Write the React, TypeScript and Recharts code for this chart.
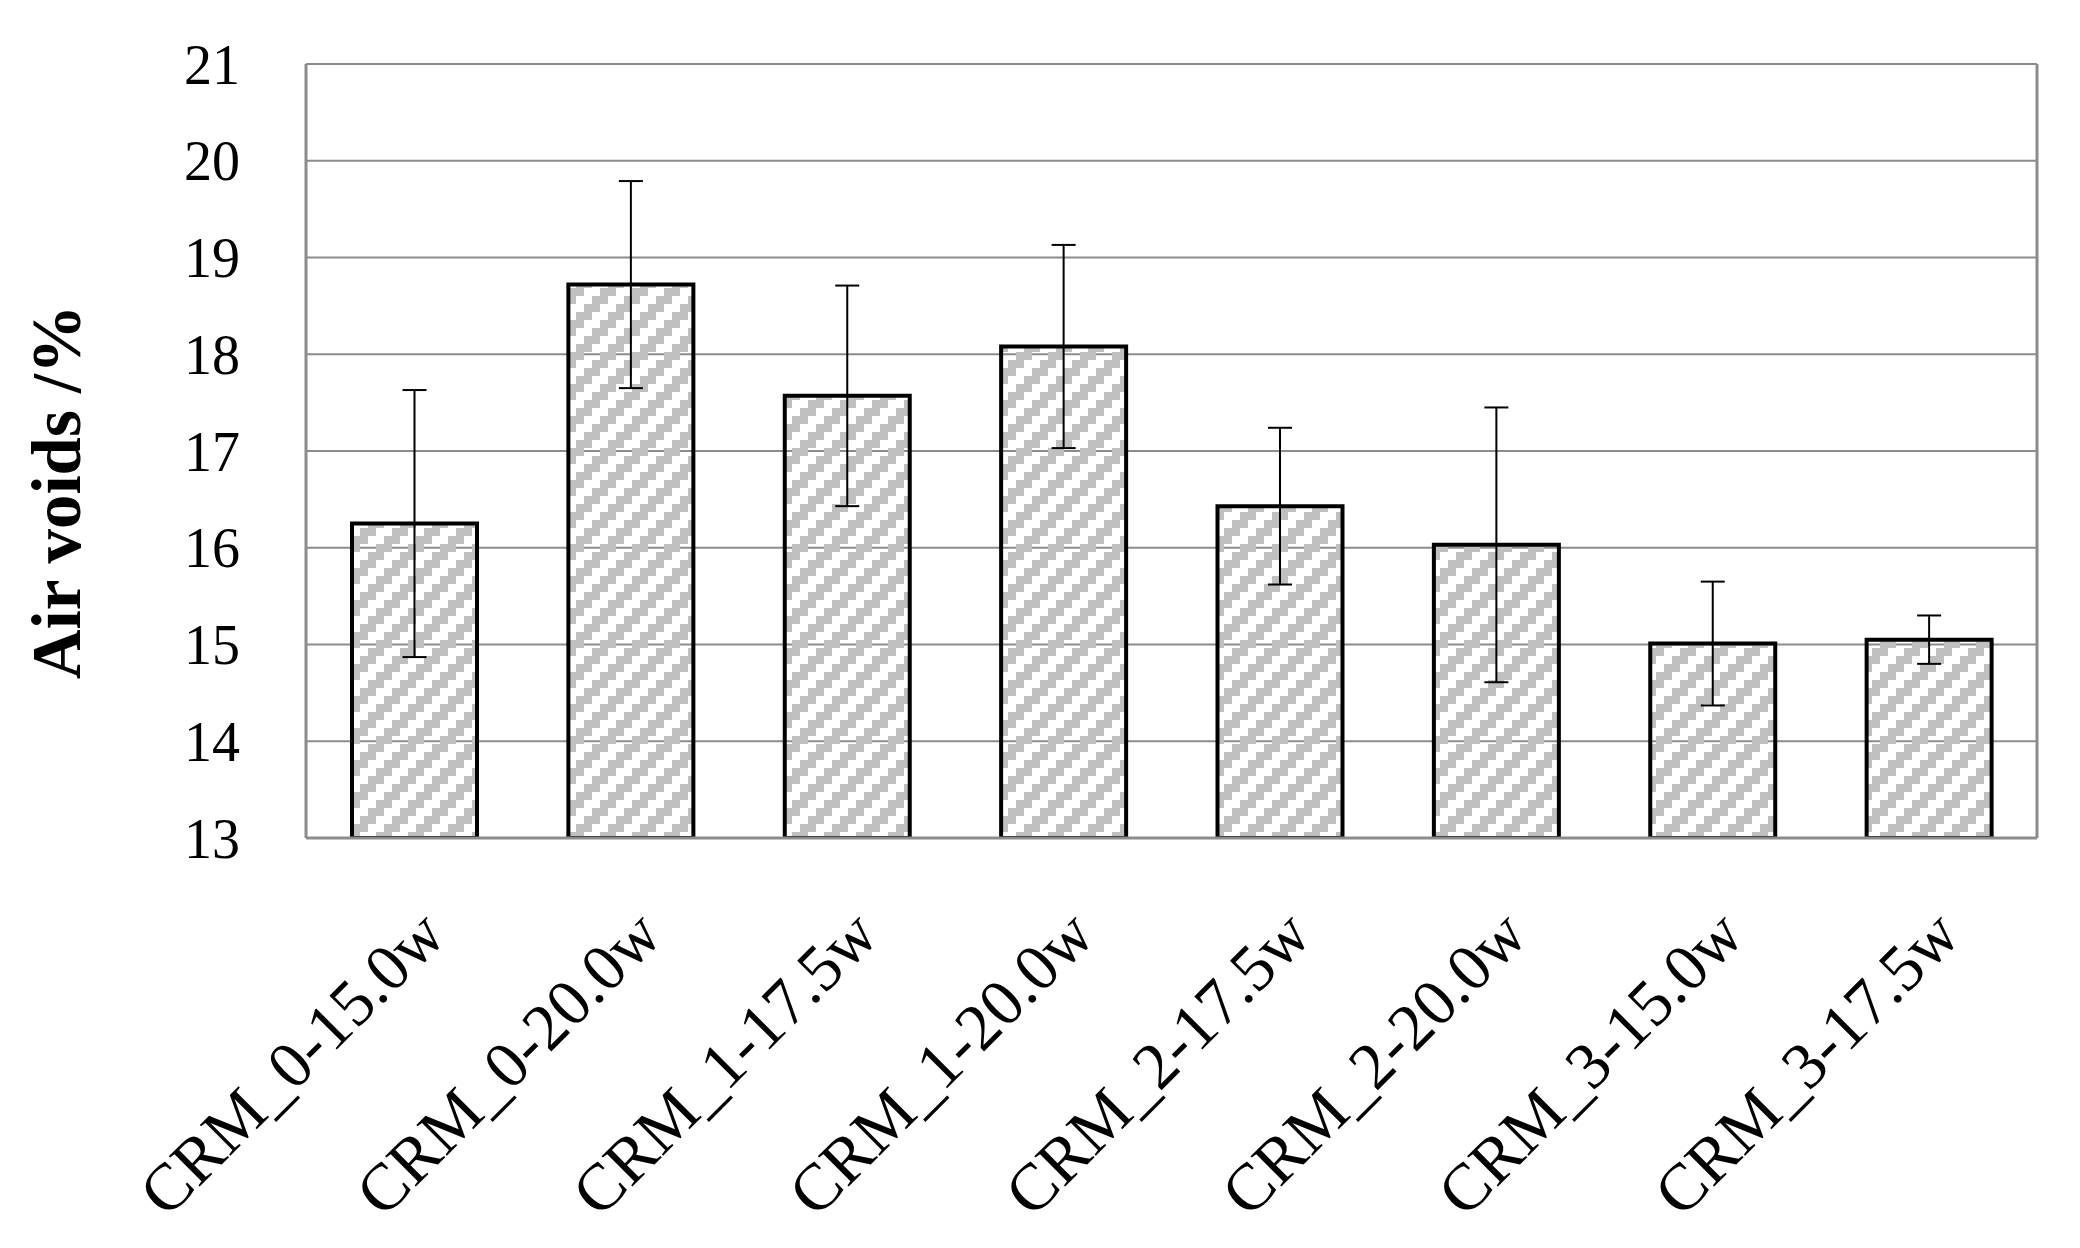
import { BarChart, Bar, XAxis, YAxis, CartesianGrid, ErrorBar } from "recharts";

const categories = [
  "CRM_0-15.0w",
  "CRM_0-20.0w",
  "CRM_1-17.5w",
  "CRM_1-20.0w",
  "CRM_2-17.5w",
  "CRM_2-20.0w",
  "CRM_3-15.0w",
  "CRM_3-17.5w",
];
const airVoids = [16.25, 18.72, 17.57, 18.08, 16.43, 16.03, 15.01, 15.05];
const errors = [1.38, 1.07, 1.14, 1.05, 0.81, 1.42, 0.64, 0.25];
const yTicks = [13, 14, 15, 16, 17, 18, 19, 20, 21];

const data = categories.map((name, i) => ({
  name,
  value: airVoids[i],
  err: errors[i],
}));

const FONT = "'Liberation Serif', 'Times New Roman', serif";
const GRID = "#8c8c8c";

function YTick({ y, payload }: any) {
  return (
    <text
      x={240}
      y={y}
      dy="0.35em"
      textAnchor="end"
      fontFamily={FONT}
      fontSize={56}
      fill="#000"
    >
      {payload.value}
    </text>
  );
}

function XTick({ x, y, payload }: any) {
  const tx = x + 34;
  const ty = y + 98;
  return (
    <text
      x={tx}
      y={ty}
      textAnchor="end"
      transform={`rotate(-45 ${tx} ${ty})`}
      fontFamily={FONT}
      fontSize={66}
      fill="#000"
    >
      {payload.value}
    </text>
  );
}

function AxisTitle() {
  return (
    <text
      x={57}
      y={492}
      transform="rotate(-90 57 492)"
      textAnchor="middle"
      dominantBaseline="central"
      fontFamily={FONT}
      fontWeight="bold"
      fontSize={69}
      fill="#000"
    >
      Air voids /%
    </text>
  );
}

export default function App() {
  return (
    <div style={{ position: "absolute", left: 0, top: 0, width: 2080, height: 1248, background: "#fff" }}>
      <svg width={0} height={0} style={{ position: "absolute" }}>
        <defs>
          <pattern id="hatch" patternUnits="userSpaceOnUse" width={32} height={32}>
            <rect x={24} y={0} width={8} height={8} fill="#c0c0c0" />
            <rect x={0} y={0} width={8} height={8} fill="#c0c0c0" />
            <rect x={16} y={8} width={16} height={8} fill="#c0c0c0" />
            <rect x={8} y={16} width={16} height={8} fill="#c0c0c0" />
            <rect x={0} y={24} width={16} height={8} fill="#c0c0c0" />
          </pattern>
        </defs>
      </svg>
      <BarChart
        width={2080}
        height={1248}
        data={data}
        margin={{ top: 64, right: 43, bottom: 0, left: 0 }}
        barSize={125}
      >
        <CartesianGrid vertical={false} stroke={GRID} strokeWidth={2} />
        <CartesianGrid
          horizontal={false}
          stroke={GRID}
          strokeWidth={3}
          verticalCoordinatesGenerator={({ offset }: any) => [offset.left + offset.width]}
        />
        <XAxis
          dataKey="name"
          interval={0}
          height={410}
          tickLine={false}
          tickSize={0}
          axisLine={{ stroke: GRID, strokeWidth: 3 }}
          tick={<XTick />}
        />
        <YAxis
          width={306}
          domain={[13, 21]}
          ticks={yTicks}
          allowDataOverflow
          tickLine={false}
          axisLine={{ stroke: GRID, strokeWidth: 3 }}
          tick={<YTick />}
          label={{ content: () => <AxisTitle /> }}
        />
        <Bar
          dataKey="value"
          fill="url(#hatch)"
          stroke="#000"
          strokeWidth={4}
          isAnimationActive={false}
        >
          <ErrorBar dataKey="err" width={12} stroke="#000" strokeWidth={2} direction="y" />
        </Bar>
      </BarChart>
    </div>
  );
}
